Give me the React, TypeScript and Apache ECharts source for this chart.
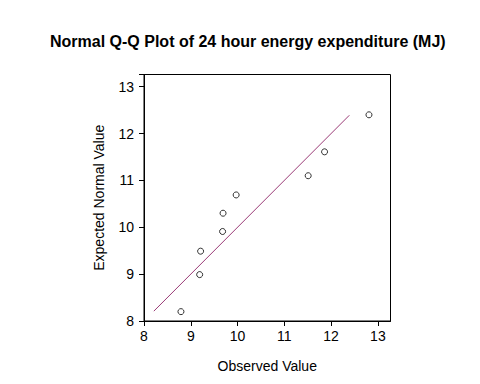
import React, { useEffect, useRef } from "react";
import * as echarts from "echarts";

const observed = [8.79, 9.19, 9.21, 9.68, 9.69, 9.97, 11.51, 11.86, 12.81];
const expected = [8.2, 8.99, 9.49, 9.91, 10.3, 10.69, 11.1, 11.61, 12.4];
const refLine = [8.21, 12.39];
const titleText = "Normal Q-Q Plot of 24 hour energy expenditure (MJ)";

export default function App() {
  const ref = useRef<HTMLDivElement>(null);
  useEffect(() => {
    if (!ref.current) return;
    const chart = echarts.init(ref.current, null, { renderer: "svg" });
    const font = "'Liberation Sans', Arial, sans-serif";
    chart.setOption({
      animation: false,
      backgroundColor: "#ffffff",
      title: {
        text: titleText,
        left: 50,
        top: 33,
        padding: 0,
        textStyle: { fontFamily: font, fontSize: 16, fontWeight: "bold", color: "#000" },
      },
      grid: {
        left: 144,
        top: 74.5,
        right: 89.5,
        bottom: 63,
        show: true,
        borderColor: "#000",
        borderWidth: 1,
        backgroundColor: "transparent",
      },
      xAxis: {
        type: "value",
        min: 8,
        max: 13.27,
        interval: 1,
        name: "Observed Value",
        nameLocation: "middle",
        nameGap: 38,
        nameTextStyle: { fontFamily: font, fontSize: 14, color: "#000" },
        axisLine: { show: true, lineStyle: { color: "#000", width: 1 } },
        axisTick: { show: true, length: 5, lineStyle: { color: "#000" } },
        axisLabel: {
          fontFamily: font,
          fontSize: 14,
          color: "#000",
          margin: 8,
          showMaxLabel: false,
          formatter: (v: number) => (Number.isInteger(v) ? String(v) : ""),
        },
        splitLine: { show: false },
      },
      yAxis: {
        type: "value",
        min: 8,
        max: 13.26,
        interval: 1,
        name: "Expected Normal Value",
        nameLocation: "middle",
        nameGap: 38,
        nameTextStyle: { fontFamily: font, fontSize: 14, color: "#000" },
        axisLine: { show: true, lineStyle: { color: "#000", width: 1 } },
        axisTick: { show: true, length: 5, lineStyle: { color: "#000" } },
        axisLabel: {
          fontFamily: font,
          fontSize: 14,
          color: "#000",
          margin: 10,
          formatter: (v: number) => (Number.isInteger(v) ? String(v) : ""),
        },
        splitLine: { show: false },
      },
      series: [
        {
          type: "line",
          data: [
            [refLine[0], refLine[0]],
            [refLine[1], refLine[1]],
          ],
          symbol: "none",
          lineStyle: { color: "#9a3a76", width: 1 },
          silent: true,
        },
        {
          type: "scatter",
          data: observed.map((x, i) => [x, expected[i]]),
          symbol: "circle",
          symbolSize: 6,
          itemStyle: { color: "#ffffff", borderColor: "#000", borderWidth: 1 },
        },
      ],
    });
    return () => chart.dispose();
  }, []);
  return <div ref={ref} style={{ width: 480, height: 384, margin: -8 }} />;
}
